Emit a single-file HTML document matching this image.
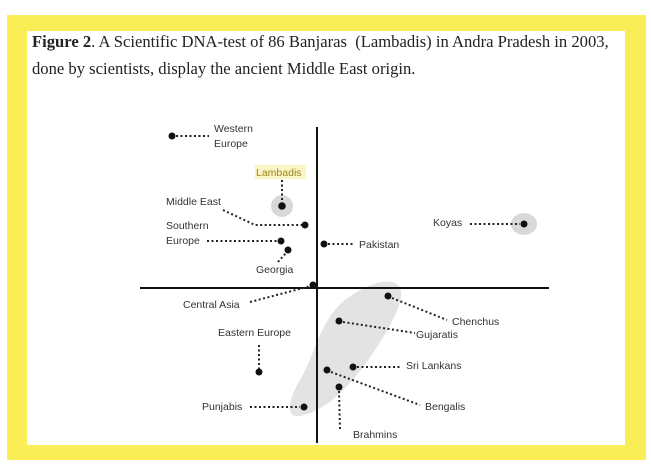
<!DOCTYPE html>
<html><head><meta charset="utf-8"><style>
body{margin:0;width:651px;height:471px;background:#fff;overflow:hidden;position:relative;font-family:"Liberation Serif",serif}
#frame{position:absolute;left:7px;top:15px;width:639px;height:445px;background:#f9ee55}
#inner{position:absolute;left:27px;top:31px;width:598px;height:414px;background:#fff}
.t{position:absolute;left:32px;font-size:16.6px;color:#222;white-space:nowrap}
svg{position:absolute;left:0;top:0}
svg text{font-family:"Liberation Sans",sans-serif;font-size:10.5px;fill:#333}
</style></head><body>
<div id="frame"></div><div id="inner"></div>
<div class="t" style="top:32px"><b>Figure 2</b>. A Scientific DNA-test of 86 Banjaras&nbsp; (Lambadis) in Andra Pradesh in 2003,</div>
<div class="t" style="top:59px">done by scientists, display the ancient Middle East origin.</div>
<svg width="651" height="471">
<path d="M395 283 C410 290 395 320 375 350 C355 380 330 410 300 416 C285 418 288 400 300 380 C315 355 320 320 345 300 C365 285 385 278 395 283Z" fill="#e3e3e3"/>
<circle cx="282" cy="206" r="11" fill="#d8d8d8"/>
<ellipse cx="524" cy="224" rx="13" ry="11" fill="#d8d8d8"/>
<line x1="317" y1="127" x2="317" y2="443" stroke="#111" stroke-width="2"/>
<line x1="140" y1="288" x2="549" y2="288" stroke="#111" stroke-width="2"/>
<g stroke="#222" stroke-width="2" stroke-dasharray="2 2.5" fill="none">
<line x1="176" y1="136" x2="209" y2="136"/>
<line x1="282" y1="180" x2="282" y2="203"/>
<polyline points="223,210 255,225 302,225"/>
<line x1="207" y1="241" x2="278" y2="241"/>
<line x1="278" y1="262" x2="286" y2="253"/>
<line x1="328" y1="244" x2="355" y2="244"/>
<line x1="470" y1="224" x2="520" y2="224"/>
<line x1="250" y1="302" x2="311" y2="286"/>
<line x1="392" y1="298" x2="447" y2="320"/>
<line x1="343" y1="322" x2="415" y2="333"/>
<line x1="357" y1="367" x2="401" y2="367"/>
<line x1="331" y1="372" x2="420" y2="405"/>
<line x1="339" y1="391" x2="340" y2="430"/>
<line x1="250" y1="407" x2="300" y2="407"/>
<line x1="259" y1="345" x2="259" y2="369"/>
</g>
<g fill="#111">
<circle cx="172" cy="136" r="3.5"/><circle cx="282" cy="206" r="3.8"/><circle cx="305" cy="225" r="3.5"/>
<circle cx="281" cy="241" r="3.5"/><circle cx="288" cy="250" r="3.5"/><circle cx="324" cy="244" r="3.5"/>
<circle cx="524" cy="224" r="3.5"/><circle cx="313" cy="285" r="3.5"/><circle cx="388" cy="296" r="3.5"/>
<circle cx="339" cy="321" r="3.5"/><circle cx="353" cy="367" r="3.5"/><circle cx="327" cy="370" r="3.5"/>
<circle cx="339" cy="387" r="3.5"/><circle cx="304" cy="407" r="3.5"/><circle cx="259" cy="372" r="3.5"/>
</g>
<rect x="255" y="165" width="51" height="14" fill="#fbf4c4"/>
<text x="214" y="132">Western</text><text x="214" y="147">Europe</text>
<text x="256" y="176" style="fill:#9a8a20">Lambadis</text>
<text x="166" y="205">Middle East</text>
<text x="166" y="229">Southern</text><text x="166" y="244">Europe</text>
<text x="256" y="273">Georgia</text>
<text x="359" y="248">Pakistan</text>
<text x="433" y="226">Koyas</text>
<text x="183" y="308">Central Asia</text>
<text x="452" y="325">Chenchus</text>
<text x="416" y="338">Gujaratis</text>
<text x="218" y="336">Eastern Europe</text>
<text x="406" y="369">Sri Lankans</text>
<text x="425" y="410">Bengalis</text>
<text x="202" y="410">Punjabis</text>
<text x="353" y="438">Brahmins</text>
</svg>
</body></html>
